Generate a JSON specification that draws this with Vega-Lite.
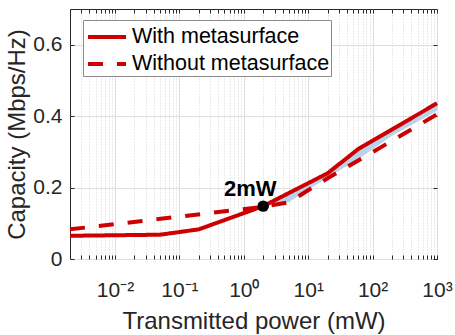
{
  "$schema": "https://vega.github.io/schema/vega-lite/v6.json",
  "width": 367,
  "height": 250,
  "autosize": {"type": "none"},
  "padding": {"left": 70, "top": 9, "right": 18, "bottom": 76},
  "background": "white",
  "config": {
    "font": "Liberation Sans",
    "view": {"stroke": "#262626", "strokeWidth": 1},
    "legend": {
      "orient": "none",
      "legendX": 13,
      "legendY": 11,
      "fillColor": "white",
      "strokeColor": "#8a8a8a",
      "padding": 1,
      "symbolType": "M-0.857,0H1.857",
      "symbolSize": 784,
      "symbolStrokeWidth": 4,
      "symbolFillColor": "transparent",
      "labelFontSize": 21.5,
      "labelLimit": 400,
      "labelColor": "black",
      "labelOffset": 16,
      "rowPadding": 0
    }
  },
  "resolve": {"axis": {"x": "independent", "y": "independent"}},
  "datasets": {
    "band": [
      {"x": 2, "lo": 0.148, "hi": 0.148},
      {"x": 5, "lo": 0.159, "hi": 0.185},
      {"x": 20, "lo": 0.228, "hi": 0.24},
      {"x": 60, "lo": 0.28, "hi": 0.308},
      {"x": 200, "lo": 0.345, "hi": 0.363},
      {"x": 1000, "lo": 0.415, "hi": 0.436}
    ],
    "lines": [
      {"x": 0.002, "y": 0.083, "series": "Without metasurface"},
      {"x": 2, "y": 0.146, "series": "Without metasurface"},
      {"x": 5, "y": 0.159, "series": "Without metasurface"},
      {"x": 20, "y": 0.226, "series": "Without metasurface"},
      {"x": 60, "y": 0.276, "series": "Without metasurface"},
      {"x": 200, "y": 0.331, "series": "Without metasurface"},
      {"x": 1000, "y": 0.405, "series": "Without metasurface"},
      {"x": 0.002, "y": 0.065, "series": "With metasurface"},
      {"x": 0.05, "y": 0.068, "series": "With metasurface"},
      {"x": 0.2, "y": 0.083, "series": "With metasurface"},
      {"x": 2, "y": 0.148, "series": "With metasurface"},
      {"x": 20, "y": 0.24, "series": "With metasurface"},
      {"x": 60, "y": 0.308, "series": "With metasurface"},
      {"x": 1000, "y": 0.436, "series": "With metasurface"}
    ],
    "mark": [
      {"x": 2, "y": 0.148, "label": "2mW"}
    ]
  },
  "layer": [
    {
      "data": {"name": "band"},
      "mark": {"type": "area", "color": "#b9d3ea", "opacity": 1},
      "encoding": {
        "x": {
          "field": "x",
          "type": "quantitative",
          "scale": {"type": "log", "domain": [0.002, 1000], "nice": false},
          "axis": {
            "orient": "bottom",
            "title": "Transmitted power (mW)",
            "values": [0.003, 0.004, 0.005, 0.006, 0.007, 0.008, 0.009, 0.01, 0.02, 0.03, 0.04, 0.05, 0.06, 0.07, 0.08, 0.09, 0.1, 0.2, 0.3, 0.4, 0.5, 0.6, 0.7, 0.8, 0.9, 1, 2, 3, 4, 5, 6, 7, 8, 9, 10, 20, 30, 40, 50, 60, 70, 80, 90, 100, 200, 300, 400, 500, 600, 700, 800, 900, 1000],
            "labelExpr": "abs(log(datum.value)/LN10 - round(log(datum.value)/LN10)) > 0.001 ? '' : datum.value < 0.05 ? '10⁻²' : datum.value < 0.5 ? '10⁻¹' : datum.value < 5 ? '10⁰' : datum.value < 50 ? '10¹' : datum.value < 500 ? '10²' : '10³'",
            "grid": true,
            "gridColor": {"condition": {"test": "abs(log(datum.value)/LN10 - round(log(datum.value)/LN10)) > 0.001", "value": "#c4c4c4"}, "value": "#dedede"},
            "gridDash": {"condition": {"test": "abs(log(datum.value)/LN10 - round(log(datum.value)/LN10)) > 0.001", "value": [1, 2]}, "value": []},
            "gridWidth": {"condition": {"test": "abs(log(datum.value)/LN10 - round(log(datum.value)/LN10)) > 0.001", "value": 0.7}, "value": 1},
            "ticks": true,
            "tickSize": -4,
            "tickColor": "#262626",
            "domain": false,
            "labelFontSize": 21,
            "labelColor": "#262626",
            "labelBaseline": "alphabetic",
            "labelPadding": 41,
            "labelFlush": false,
            "labelOverlap": false,
            "titleFontSize": 24,
            "titleFontWeight": "normal",
            "titleColor": "#262626",
            "titleBaseline": "alphabetic",
            "titleY": 69
          }
        },
        "y": {
          "field": "lo",
          "type": "quantitative",
          "scale": {"domain": [0, 0.7], "nice": false},
          "axis": {
            "orient": "left",
            "title": "Capacity (Mbps/Hz)",
            "values": [0, 0.2, 0.4, 0.6],
            "format": "~g",
            "grid": true,
            "gridColor": "#dedede",
            "gridWidth": 1,
            "ticks": true,
            "tickSize": -4,
            "tickColor": "#262626",
            "domain": false,
            "labelFontSize": 21,
            "labelColor": "#262626",
            "labelPadding": 12,
            "titleFontSize": 24,
            "titleFontWeight": "normal",
            "titleColor": "#262626",
            "titleBaseline": "alphabetic",
            "titleX": -46
          }
        },
        "y2": {"field": "hi"}
      }
    },
    {
      "data": {"name": "lines"},
      "mark": {"type": "line", "strokeWidth": 4},
      "encoding": {
        "x": {
          "field": "x",
          "type": "quantitative",
          "axis": {
            "orient": "top",
            "title": null,
            "values": [0.003, 0.004, 0.005, 0.006, 0.007, 0.008, 0.009, 0.01, 0.02, 0.03, 0.04, 0.05, 0.06, 0.07, 0.08, 0.09, 0.1, 0.2, 0.3, 0.4, 0.5, 0.6, 0.7, 0.8, 0.9, 1, 2, 3, 4, 5, 6, 7, 8, 9, 10, 20, 30, 40, 50, 60, 70, 80, 90, 100, 200, 300, 400, 500, 600, 700, 800, 900, 1000],
            "labels": false,
            "grid": false,
            "domain": false,
            "ticks": true,
            "tickSize": -4,
            "tickColor": "#262626"
          }
        },
        "y": {
          "field": "y",
          "type": "quantitative",
          "axis": {
            "orient": "right",
            "title": null,
            "values": [0, 0.2, 0.4, 0.6],
            "labels": false,
            "grid": false,
            "domain": false,
            "ticks": true,
            "tickSize": -4,
            "tickColor": "#262626"
          }
        },
        "color": {
          "field": "series",
          "type": "nominal",
          "scale": {"domain": ["With metasurface", "Without metasurface"], "range": ["#cc0000", "#cc0000"]},
          "legend": {"title": null}
        },
        "strokeDash": {
          "field": "series",
          "type": "nominal",
          "scale": {"domain": ["With metasurface", "Without metasurface"], "range": [[1, 0], [15, 14]]},
          "legend": {"title": null}
        }
      }
    },
    {
      "data": {"name": "mark"},
      "mark": {"type": "point", "filled": true, "color": "black", "opacity": 1, "size": 130},
      "encoding": {
        "x": {"field": "x", "type": "quantitative", "axis": null},
        "y": {"field": "y", "type": "quantitative", "axis": null}
      }
    },
    {
      "data": {"name": "mark"},
      "mark": {"type": "text", "fontSize": 22, "fontWeight": "bold", "color": "black", "dx": -13, "dy": -10, "align": "center", "baseline": "alphabetic"},
      "encoding": {
        "x": {"field": "x", "type": "quantitative", "axis": null},
        "y": {"field": "y", "type": "quantitative", "axis": null},
        "text": {"field": "label"}
      }
    }
  ]
}
